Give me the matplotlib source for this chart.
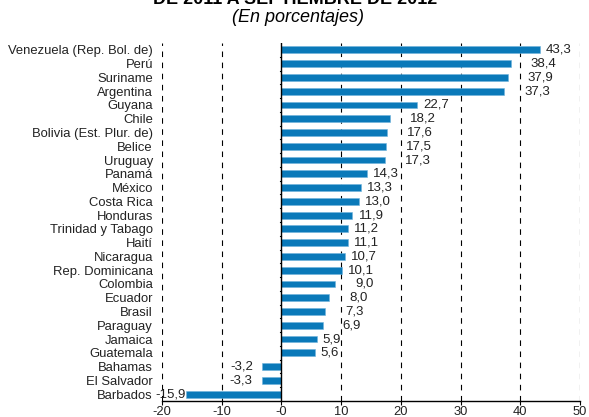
import matplotlib
matplotlib.use("Agg")
import matplotlib.pyplot as plt

plt.rcParams['font.family'] = ['Liberation Sans', 'DejaVu Sans']

countries = ["Venezuela (Rep. Bol. de)", "Perú", "Suriname", "Argentina", "Guyana",
             "Chile", "Bolivia (Est. Plur. de)", "Belice", "Uruguay", "Panamá",
             "México", "Costa Rica", "Honduras", "Trinidad y Tabago", "Haití",
             "Nicaragua", "Rep. Dominicana", "Colombia", "Ecuador", "Brasil",
             "Paraguay", "Jamaica", "Guatemala", "Bahamas", "El Salvador", "Barbados"]
values = [43.3, 38.4, 37.9, 37.3, 22.7, 18.2, 17.6, 17.5, 17.3, 14.3,
          13.3, 13.0, 11.9, 11.2, 11.1, 10.7, 10.1, 9.0, 8.0, 7.3,
          6.9, 5.9, 5.6, -3.2, -3.3, -15.9]
xticks = [-20, -10, 0, 10, 20, 30, 40, 50]
xticklabels = ["-20", "-10", "-0", "10", "20", "30", "40", "50"]

fig = plt.figure(figsize=(5.89, 4.17), dpi=100)
ax = fig.add_axes([162/589, 1-401/417, (580-162)/589, (401-43)/417])

XMIN, XMAX = -20, 50
px = (XMAX - XMIN) / (580 - 162)  # data units per pixel

n = len(countries)
ypos = list(range(n))
bar_color = '#0a79b9'
ax.barh(ypos, values, height=0.5, color=bar_color, edgecolor='#6fb3dc', linewidth=0.4, zorder=3)

grid_x = [x for x in xticks if x != 0]
for y, v in zip(ypos, values):
    lab = f"{v:.1f}".replace('.', ',')
    if v >= 0:
        off = 6 * px
        # shift labels past a nearby gridline, as in the reference
        if any(0 < g - v < 20 * px for g in grid_x):
            off = 20 * px
        ax.text(v + off, y, lab, va='center', ha='left', fontsize=9.5, color='#222222', zorder=4)
    else:
        right = v - 9 * px
        width = 26 * px
        right = max(right, XMIN - 2 * px + width)
        right = min(right, v + 0.2 * px) if right > v else right
        ax.text(right, y, lab, va='center', ha='right', fontsize=9.5, color='#222222', zorder=4)

ax.set_xlim(XMIN, XMAX)
ax.set_ylim(n - 0.5, -0.5)
ax.set_yticks(ypos)
ax.set_yticklabels(countries, fontsize=9.4, color='#222222')
ax.tick_params(axis='y', length=0, pad=6.5)
ax.set_xticks(xticks)
ax.set_xticklabels(xticklabels, fontsize=9.3, color='#222222')
ax.tick_params(axis='x', direction='out', length=3, width=0.8, pad=0.5)

for s in ['top', 'right', 'left']:
    ax.spines[s].set_visible(False)
ax.spines['bottom'].set_linewidth(1.0)

for x in grid_x:
    ax.axvline(x, color='black', linestyle=(0, (5, 5)), linewidth=0.8, zorder=1)

ax.axvline(0, color='black', linewidth=1.0, zorder=5)
for y in ypos:
    ax.plot([-0.3, 0], [y + 0.5, y + 0.5], color='black', lw=0.8, zorder=5)

fig.text(295/589, 1 - 3.5/417, "DE 2011 A SEPTIEMBRE DE 2012", ha='center', va='baseline',
         fontsize=13, fontweight='bold')
fig.text(298/589, 1 - 18/417, "(En porcentajes)", ha='center', va='center',
         fontsize=13, fontstyle='italic')

fig.savefig("out.png", dpi=100)
